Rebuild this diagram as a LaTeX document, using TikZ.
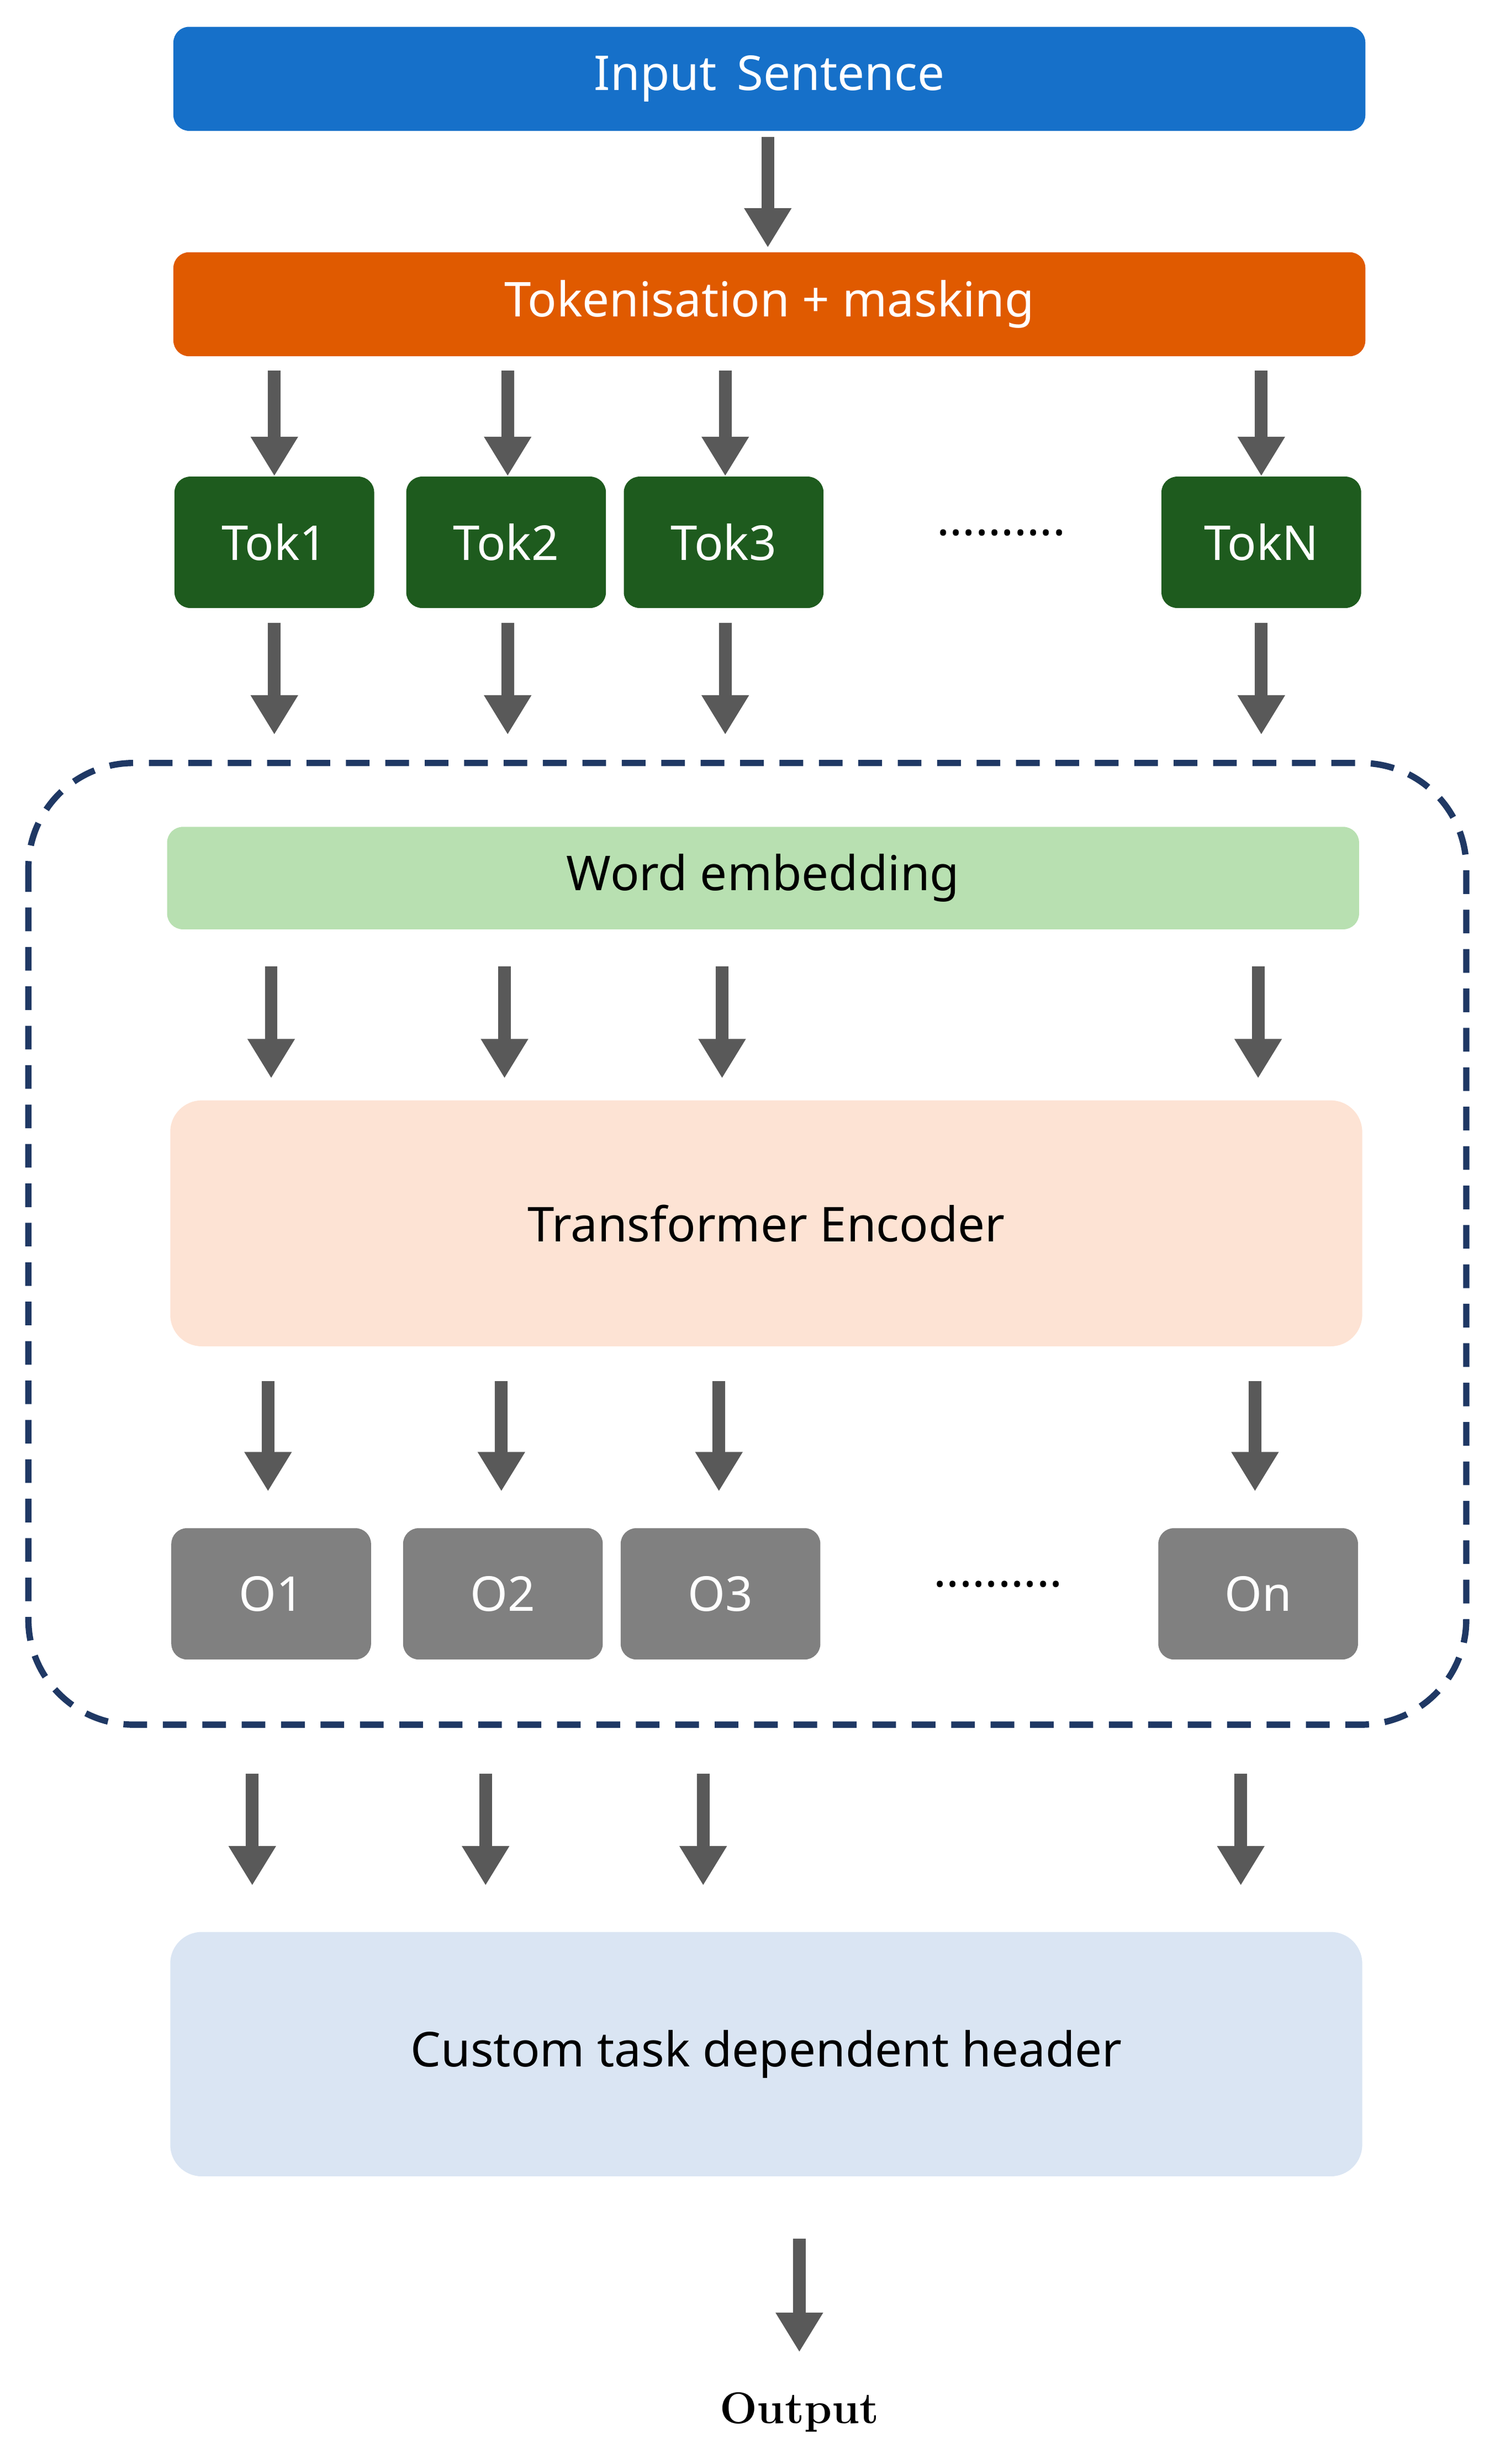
\documentclass[tikz,border=0pt]{standalone}
\usepackage{fontspec}
\setmainfont{Latin Modern Roman}
\newfontfamily\boxfont{Noto Sans}
\usetikzlibrary{arrows.meta, positioning}
\definecolor{inblue}{HTML}{1670C9}
\definecolor{tokorange}{HTML}{E05A00}
\definecolor{tokgreen}{HTML}{1E5B1E}
\definecolor{embgreen}{HTML}{B8E0B1}
\definecolor{encpeach}{HTML}{FDE3D4}
\definecolor{outgrey}{HTML}{808080}
\definecolor{headblue}{HTML}{DAE5F3}
\definecolor{arrgrey}{HTML}{595959}
\definecolor{frame}{HTML}{1F3864}
\tikzset{
  wide/.style={minimum width=22.68cm, rounded corners=0.3cm, font=\boxfont\bfseries\fontsize{26}{30}\selectfont},
  small/.style={minimum width=3.8cm, minimum height=2.5cm, rounded corners=0.3cm, text=white, font=\boxfont\bfseries\fontsize{26}{30}\selectfont},
  arr/.style={line width=0.24cm, arrgrey, -{Triangle[width=0.85cm,length=0.75cm]}},
  dots/.style={font=\boxfont\bfseries\fontsize{26}{30}\selectfont}
}
\begin{document}
\begin{tikzpicture}[x=0.03cm, y=-0.03cm]
        \useasboundingbox (0,0) rectangle (948,1563);
        % Frame
        \draw[frame, line width=0.12cm, dash pattern=on 0.45cm off 0.3cm, rounded corners=2cm] (18,484) rectangle (930,1094);

        % Top boxes
        \node[wide, fill=inblue, text=white, minimum height=1.98cm] (input) at (488,50) {Input\, Sentence};
        \node[wide, fill=tokorange, text=white, minimum height=1.98cm] (token) at (488,193) {Tokenisation + masking};

        % Tokens
        \node[small, fill=tokgreen] (tok1) at (174,344) {Tok1};
        \node[small, fill=tokgreen] (tok2) at (321,344) {Tok2};
        \node[small, fill=tokgreen] (tok3) at (459,344) {Tok3};
        \node[dots] (tokdots) at (635,338) {..........};
        \node[small, fill=tokgreen] (tokN) at (800,344) {TokN};

        % Inner boxes
        \node[wide, fill=embgreen, minimum height=1.95cm] (emb) at (484,557) {Word embedding};
        \node[wide, fill=encpeach, minimum height=4.68cm, rounded corners=0.6cm] (enc) at (486,776) {Transformer Encoder};

        % Outputs
        \node[small, fill=outgrey] (o1) at (172,1011) {O1};
        \node[small, fill=outgrey] (o2) at (319,1011) {O2};
        \node[small, fill=outgrey] (o3) at (457,1011) {O3};
        \node[dots] (odots) at (633,1005) {..........};
        \node[small, fill=outgrey] (on) at (798,1011) {On};

        % Header
        \node[wide, fill=headblue, minimum height=4.65cm, rounded corners=0.6cm] (head) at (486,1303) {Custom task dependent header};
        \node[font=\bfseries\fontsize{24}{28}\selectfont] (output) at (507,1530) {Output};

        % Arrows
        \coordinate (s0) at (487,87); \coordinate (e0) at (487,157);
        \draw[arr] (s0) -- (e0);
        \foreach \i/\x in {1/174,2/322,3/460,4/800} {
          \coordinate (sa\i) at (\x,235); \coordinate (ea\i) at (\x,302);
          \draw[arr] (sa\i) -- (ea\i);
          \coordinate (sb\i) at (\x,395); \coordinate (eb\i) at (\x,466);
          \draw[arr] (sb\i) -- (eb\i);
        }
        \foreach \i/\x in {1/172,2/320,3/458,4/798} {
          \coordinate (sc\i) at (\x,613); \coordinate (ec\i) at (\x,684);
          \draw[arr] (sc\i) -- (ec\i);
        }
        \foreach \i/\x in {1/170,2/318,3/456,4/796} {
          \coordinate (sd\i) at (\x,876); \coordinate (ed\i) at (\x,946);
          \draw[arr] (sd\i) -- (ed\i);
        }
        \foreach \i/\x in {1/160,2/308,3/446,4/787} {
          \coordinate (se\i) at (\x,1125); \coordinate (ee\i) at (\x,1196);
          \draw[arr] (se\i) -- (ee\i);
        }
        \coordinate (sf) at (507,1420); \coordinate (ef) at (507,1492);
        \draw[arr] (sf) -- (ef);
\end{tikzpicture}
\end{document}
